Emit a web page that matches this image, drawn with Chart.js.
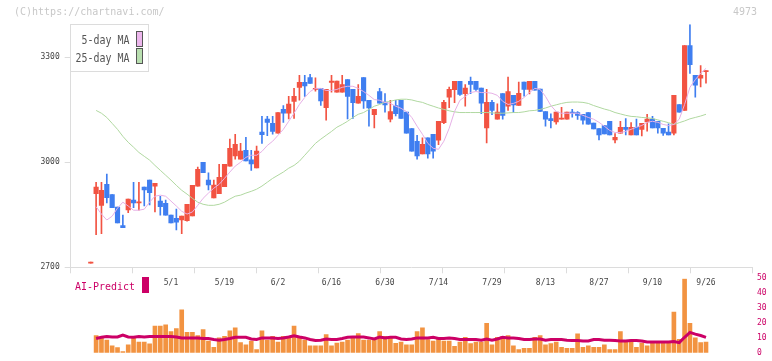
<!DOCTYPE html>
<html><head><meta charset="utf-8">
<script src="https://cdn.jsdelivr.net/npm/chart.js@4/dist/chart.umd.min.js"></script>
<style>
html,body{margin:0;padding:0;background:#fff;}
#wrap{position:relative;width:772px;height:361px;overflow:hidden;background:#fff;}
canvas{position:absolute;left:0;top:0;}
.t{position:absolute;font-family:"DejaVu Sans Mono",monospace;white-space:nowrap;line-height:1;}
</style></head><body>
<div id="wrap">
<canvas id="main" width="772" height="361"></canvas>
<canvas id="vol" width="772" height="361"></canvas>
<div class="t" style="left:14px;top:7px;font-size:10px;color:#c8c8c8">(C)https://chartnavi.com/</div>
<div class="t" style="left:733px;top:7px;font-size:10px;color:#c8c8c8">4973</div>
<div style="position:absolute;left:70px;top:24px;width:79px;height:48px;box-sizing:border-box;border:1px solid #dcdcdc;background:#fff;"></div>
<div class="t" style="left:0;width:129.5px;text-align:right;top:33.3px;font-size:13px;color:#555;transform:scaleX(0.766);transform-origin:right center">5-day MA</div>
<div class="t" style="left:0;width:129.5px;text-align:right;top:50.7px;font-size:13px;color:#555;transform:scaleX(0.766);transform-origin:right center">25-day MA</div>
<div style="position:absolute;left:136px;top:31px;width:7px;height:16px;box-sizing:border-box;border:1px solid #555;background:#ecb6ec"></div>
<div style="position:absolute;left:136px;top:48px;width:7px;height:16px;box-sizing:border-box;border:1px solid #555;background:#b9dfb0"></div>
<div class="t" style="left:75.3px;top:280.7px;font-size:11px;color:#cc0066;transform:scaleX(0.906);transform-origin:left center">AI-Predict</div>
<div style="position:absolute;left:142px;top:277px;width:7px;height:16px;background:#cc0066"></div>
</div>
<script>
// ---- data ----
const tickLabels = ['5/1','5/19','6/2','6/16','6/30','7/14','7/29','8/13','8/27','9/10','9/26'];
const tickIdx = [15,25,35,45,55,65,75,85,95,105,115];
const yTicks = [2700,3000,3300];
const volTicks = [0,10,20,30,40,50];

const open = [2712,2910,2877,2937,2908,2872,2819,2864,2892,2884,2929,2949,2932,2889,2883,2849,2840,2835,2833,2847,2932,3000,2949,2898,2910,2930,2989,3018,3009,3034,3007,2984,3086,3123,3111,3083,3151,3140,3174,3214,3228,3242,3208,3211,3156,3228,3200,3200,3236,3208,3169,3242,3177,3136,3202,3172,3123,3162,3177,3143,3096,3060,3024,3070,3080,3063,3113,3186,3207,3231,3196,3231,3231,3212,3098,3171,3123,3196,3160,3191,3162,3229,3208,3231,3209,3145,3125,3115,3123,3123,3143,3142,3137,3142,3112,3096,3105,3117,3064,3083,3100,3078,3100,3094,3115,3123,3117,3097,3086,3083,3165,3148,3333,3248,3240,3259];
const high = [2712,2943,2943,2966,2908,2872,2849,2895,2943,2943,2929,2949,2940,2903,2892,2849,2866,2846,2880,2934,2986,3000,2970,2949,2994,2994,3066,3080,3054,3071,3034,3046,3131,3131,3131,3142,3162,3188,3211,3248,3248,3251,3241,3211,3208,3248,3232,3248,3236,3208,3222,3242,3177,3151,3211,3196,3177,3177,3177,3143,3096,3077,3070,3070,3080,3117,3177,3215,3231,3231,3222,3243,3231,3212,3208,3177,3167,3196,3243,3191,3229,3229,3231,3231,3209,3145,3138,3143,3157,3143,3151,3145,3137,3142,3112,3096,3105,3117,3082,3117,3125,3113,3123,3111,3137,3131,3117,3097,3110,3191,3165,3333,3393,3248,3276,3261];
const low = [2712,2793,2796,2884,2870,2827,2813,2856,2870,2863,2875,2878,2858,2849,2849,2827,2807,2796,2832,2847,2932,2970,2921,2898,2910,2930,2989,3009,3009,3004,2977,2984,3054,3076,3080,3083,3114,3124,3125,3177,3188,3225,3203,3162,3120,3200,3200,3200,3124,3125,3169,3154,3103,3098,3169,3143,3115,3132,3125,3083,3032,3009,3024,3012,3012,3050,3110,3156,3170,3191,3160,3196,3205,3139,3055,3136,3123,3123,3148,3142,3162,3189,3195,3206,3145,3103,3098,3109,3123,3123,3129,3122,3109,3109,3095,3064,3081,3078,3055,3083,3078,3078,3078,3075,3089,3098,3083,3077,3078,3078,3143,3148,3254,3186,3215,3226];
const close = [2712,2929,2920,2899,2870,2827,2813,2895,2884,2887,2921,2913,2940,2873,2849,2827,2829,2846,2880,2934,2980,2970,2935,2935,2957,2994,3040,3051,3032,3004,2995,3032,3079,3114,3088,3142,3140,3166,3188,3228,3218,3225,3211,3175,3208,3232,3232,3222,3188,3170,3188,3175,3155,3151,3169,3164,3145,3139,3125,3083,3032,3018,3051,3024,3032,3117,3171,3208,3231,3194,3212,3222,3208,3169,3171,3148,3143,3134,3202,3164,3197,3208,3231,3206,3145,3123,3119,3143,3125,3143,3140,3134,3120,3109,3095,3078,3081,3078,3071,3100,3094,3100,3078,3111,3123,3098,3098,3083,3078,3191,3143,3333,3279,3220,3248,3261];
const ma5 = [null,2873,2852,2835,2846,2869,2886,2875,2863,2863,2866,2886,2903,2906,2903,2889,2875,2860,2852,2858,2877,2897,2912,2926,2937,2954,2972,2989,3000,3014,3020,3020,3031,3048,3060,3077,3094,3117,3140,3165,3185,3202,3211,3211,3205,3205,3208,3214,3217,3217,3211,3202,3191,3179,3177,3171,3168,3160,3154,3145,3128,3103,3080,3054,3040,3037,3060,3097,3145,3177,3188,3199,3202,3199,3199,3197,3191,3174,3165,3168,3174,3185,3199,3211,3208,3188,3162,3145,3140,3140,3140,3140,3134,3128,3123,3114,3103,3091,3085,3085,3088,3094,3100,3105,3114,3117,3114,3108,3105,3108,3123,3165,3214,3236,3254,3268];
const ma25 = [null,3148,3140,3128,3111,3094,3074,3057,3043,3028,3017,3006,2991,2977,2963,2949,2934,2920,2909,2897,2886,2880,2877,2877,2880,2886,2895,2903,2906,2912,2917,2923,2932,2943,2954,2963,2972,2983,2991,3003,3020,3037,3054,3066,3077,3088,3100,3108,3117,3128,3137,3142,3151,3160,3165,3171,3174,3178,3180,3180,3178,3174,3171,3165,3160,3155,3151,3147,3144,3142,3142,3142,3142,3142,3142,3141,3140,3140,3141,3142,3142,3144,3147,3148,3151,3155,3160,3164,3168,3171,3172,3172,3171,3168,3162,3157,3152,3148,3142,3138,3134,3131,3130,3128,3127,3125,3121,3117,3113,3108,3113,3118,3124,3128,3132,3137];
const volume = [null,11.6,10.4,8.5,4.7,3.5,0.9,5.4,10,7.2,7.2,6,18,18,18.8,14.2,16.3,28.9,13.7,13.7,11.6,15.6,7.9,3.7,10,11,14.8,16.7,6.8,5.4,7.9,2.2,14.8,8.5,11,7.2,11,11,18,11,8.5,4.7,4.7,4.7,12.3,4.7,6.6,7.2,8.5,10.4,12.9,8.5,8.5,9.1,14.2,11,11,6.4,7.2,5.4,5.4,14.2,16.7,8.9,7.9,9.3,7.9,7.9,4.3,7.2,10.4,6.2,7.2,7.2,19.8,5.4,10.4,11,11.6,4.7,2.2,3,3,10.4,11.6,5.4,6.2,7.2,3.7,3,3,12.7,3.7,4.7,3.7,3.7,5.4,2.2,2.2,14.2,7.9,8.5,3.7,6.6,4.7,7.2,7.2,7.2,7.2,27.4,9,49.4,19.8,10,6.8,7.2];
const aiPredict = [null,9.6,10.4,11.0,10.6,10.6,11.9,10.6,10.4,11.0,10.6,11.0,11.0,11.0,11.0,11.0,10.6,10.0,10.0,10.0,10.0,9.6,9.6,8.9,8.5,8.9,9.6,10.4,10.4,10.4,9.3,8.9,10.0,10.0,10.0,9.6,10.0,10.6,11.4,10.6,10.0,8.9,8.3,8.5,9.3,8.9,8.9,9.6,10.4,10.6,10.6,10.6,10.0,9.3,10.6,10.0,10.4,10.4,9.3,8.9,9.3,10.0,10.0,10.0,10.4,9.6,9.6,10.0,9.6,8.9,8.9,8.9,8.9,8.5,9.3,8.5,9.3,10.4,10.0,10.0,9.6,8.9,8.9,9.3,9.3,8.5,8.9,8.9,8.9,8.5,8.3,8.3,7.9,7.9,8.9,8.9,8.5,8.5,8.3,7.9,7.9,8.3,8.3,7.9,7.3,7.3,7.3,7.3,7.3,7.5,6.8,10.4,13.7,12.5,11.6,10.4];

// ---- layout / style ----
const X_MIN = -3.75, X_MAX = 123.6;
const UP = '#f25342', DOWN = '#3f7ef0';
const FONT = {family:'DejaVu Sans Mono', size:8, lineHeight:0.8};
Chart.defaults.font.family = 'DejaVu Sans Mono';

const gridTicks = [];
for (let k = 0; k <= 11; k++) gridTicks.push(X_MIN + k * (X_MAX - X_MIN) / 11);

const candleColors = close.map((c, i) => c >= open[i] ? UP : DOWN);
const wickData = high.map((h, i) => ({x: i, y: [low[i], h]}));
const bodyData = open.map((o, i) => ({x: i, y: [o, close[i]]}));
const toXY = arr => arr.map((v, i) => ({x: i, y: v}));

new Chart(document.getElementById('main'), {
  type: 'bar',
  data: {datasets: [
    {type:'line', data: toXY(ma5), borderColor:'#e6b0e6', borderWidth:1, pointRadius:0, order:0},
    {type:'line', data: toXY(ma25), borderColor:'#b0d8a0', borderWidth:1, pointRadius:0, order:0},
    {data: bodyData, backgroundColor: candleColors, barThickness:4.5, grouped:false, minBarLength:1, order:1},
    {data: wickData, backgroundColor: candleColors, barThickness:1, grouped:false, minBarLength:1, order:2}
  ]},
  options: {
    responsive:false, animation:false, devicePixelRatio:1,
    layout:{padding:{top:24.3, right:20, bottom:0, left:0}},
    plugins:{legend:{display:false}, tooltip:{enabled:false}},
    scales:{
      x:{type:'linear', min:X_MIN, max:X_MAX, offset:false, weight:1, position:'bottom',
        afterBuildTicks:s => { s.ticks = gridTicks.map(v => ({value:v})); },
        afterFit:s => { s.height = 6; },
        ticks:{display:false},
        grid:{offset:false, drawOnChartArea:false, drawTicks:true, tickLength:6, color:'#dcdcdc'},
        border:{display:true, color:'#dcdcdc'}},
      x2:{type:'linear', min:X_MIN, max:X_MAX, offset:false, weight:2, position:'bottom',
        afterBuildTicks:s => { s.ticks = tickIdx.map(v => ({value:v})); },
        afterFit:s => { s.height = 361 - 267.3 - 6; },
        ticks:{autoSkip:false, maxRotation:0, padding:6, color:'#444', font:FONT,
          callback:v => tickLabels[tickIdx.indexOf(v)]},
        grid:{display:false, drawTicks:false}, border:{display:false}},
      y:{type:'linear', min:2700, max:3394, beginAtZero:false, position:'left',
        afterBuildTicks:s => { s.ticks = yTicks.map(v => ({value:v})); },
        afterFit:s => { s.width = 70.7; },
        ticks:{padding:5, color:'#444', font:FONT, callback:v => String(v)},
        grid:{drawOnChartArea:false, tickLength:6, color:'#dcdcdc'},
        border:{display:true, color:'#dcdcdc'}}
    }
  }
});

new Chart(document.getElementById('vol'), {
  type: 'bar',
  data: {datasets: [
    {type:'line', data: toXY(aiPredict), borderColor:'#cc0066', borderWidth:3, pointRadius:0, order:0},
    {data: toXY(volume), backgroundColor:'#f29341', barThickness:4, grouped:false, order:1}
  ]},
  options: {
    responsive:false, animation:false, devicePixelRatio:1,
    layout:{padding:{top:278.3, right:0, bottom:3.3, left:70.7}},
    plugins:{legend:{display:false}, tooltip:{enabled:false}},
    scales:{
      x:{type:'linear', min:X_MIN, max:X_MAX, offset:false, display:false, grid:{offset:false}},
      y:{type:'linear', min:0, max:50, beginAtZero:true, position:'right',
        afterBuildTicks:s => { s.ticks = volTicks.map(v => ({value:v})); },
        afterFit:s => { s.width = 20; },
        ticks:{padding:5, color:'#cc0066', font:FONT, callback:v => String(v)},
        grid:{display:false, drawTicks:false}, border:{display:false}}
    }
  }
});
</script>
</body></html>
